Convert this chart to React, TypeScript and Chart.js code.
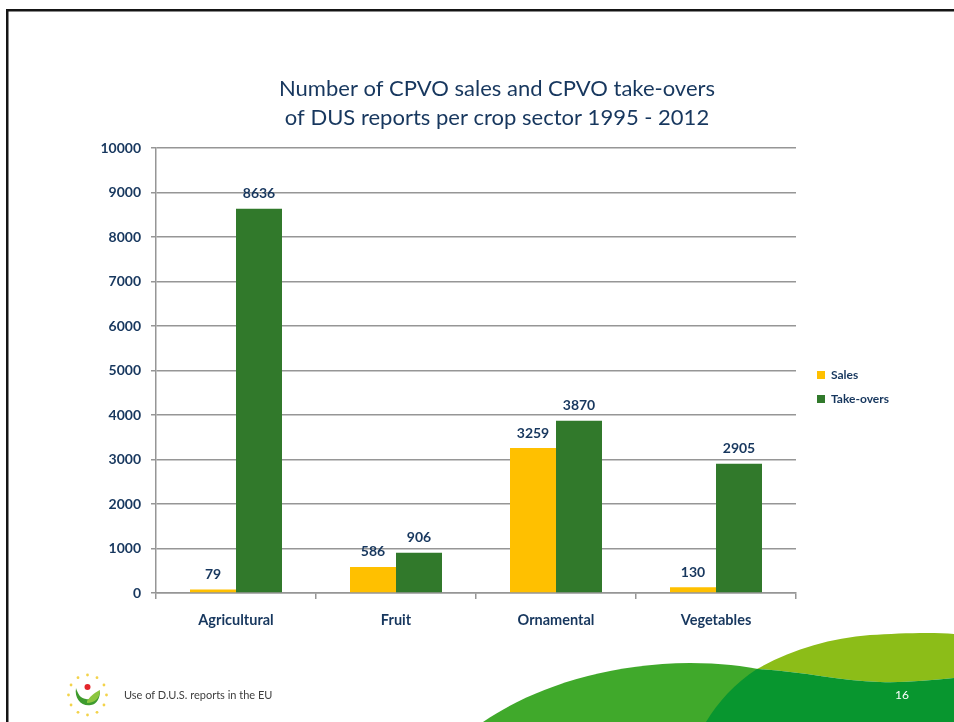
import React, { useEffect, useRef } from 'react';
import { Chart, registerables } from 'chart.js';

Chart.register(...registerables);

// ---- data ----
const categories = ['Agricultural', 'Fruit', 'Ornamental', 'Vegetables'];
const salesValues = [79, 586, 3259, 130];
const takeOverValues = [8636, 906, 3870, 2905];
const seriesNames = ['Sales', 'Take-overs'];
const titleLines = ['Number of CPVO sales and CPVO take-overs', 'of DUS reports per crop sector 1995 - 2012'];
const yMin = 0;
const yMax = 10000;
const yStep = 1000;
const footerText = 'Use of D.U.S. reports in the EU';
const pageNumber = '16';

// ---- styles ----
const NAVY = '#17375E';
const GRID = '#969696';
const SALES_COLOR = '#FFC000';
const TAKEOVER_COLOR = '#31792B';
const FONT = 'Lato, "Open Sans", sans-serif';

const valueLabels = {
  id: 'valueLabels',
  afterDatasetsDraw(chart: any) {
    const ctx = chart.ctx;
    ctx.save();
    ctx.font = `bold 14px ${FONT}`;
    ctx.fillStyle = NAVY;
    ctx.textAlign = 'center';
    ctx.textBaseline = 'middle';
    chart.data.datasets.forEach((ds: any, i: number) => {
      const meta = chart.getDatasetMeta(i);
      meta.data.forEach((el: any, j: number) => {
        ctx.fillText(String(ds.data[j]), el.x, el.y - 15);
      });
    });
    ctx.restore();
  },
};

function Logo() {
  const cx = 87.5;
  const cy = 695;
  const dots = [];
  for (let i = 0; i < 12; i++) {
    const a = (i / 12) * Math.PI * 2;
    dots.push(
      <circle key={i} cx={cx + Math.cos(a) * 19} cy={cy + Math.sin(a) * 20} r={1.4} fill="#F3D34A" />
    );
  }
  return (
    <g>
      {dots}
      <path d="M76 688 C74 699, 82 707, 91 705 C97 704, 100 698, 100 691 C96 697, 91 700, 86 699 C80 698, 78 694, 76 688 Z" fill="#3E9B2E" />
      <path d="M87 701 C91 695, 96 692, 100 690 C100 698, 95 703, 87 703 Z" fill="#8CC63F" />
      <circle cx={87.5} cy={687} r={3} fill="#E3262B" />
    </g>
  );
}

export default function App() {
  const canvasRef = useRef<HTMLCanvasElement | null>(null);

  useEffect(() => {
    if (!canvasRef.current) return;
    const chart = new Chart(canvasRef.current, {
      type: 'bar',
      data: {
        labels: categories,
        datasets: [
          {
            label: seriesNames[0],
            data: salesValues,
            backgroundColor: SALES_COLOR,
            borderWidth: 0,
            categoryPercentage: 0.575,
            barPercentage: 1,
          },
          {
            label: seriesNames[1],
            data: takeOverValues,
            backgroundColor: TAKEOVER_COLOR,
            borderWidth: 0,
            categoryPercentage: 0.575,
            barPercentage: 1,
          },
        ],
      },
      options: {
        responsive: false,
        animation: false,
        layout: { padding: { left: 97, right: 57, top: 75, bottom: 0 } },
        plugins: {
          tooltip: { enabled: false },
          title: {
            display: true,
            text: titleLines,
            color: NAVY,
            font: { family: FONT, size: 22, weight: 'normal', lineHeight: 1.3 },
            padding: { top: 0, bottom: 16 },
          },
          legend: {
            display: true,
            position: 'right',
            fullSize: false,
            maxWidth: 92,
            title: {
              display: true,
              text: ' ',
              font: { family: FONT, size: 11, lineHeight: 1 },
              padding: 11,
            },
            labels: {
              boxWidth: 8,
              boxHeight: 8,
              padding: 12,
              color: NAVY,
              font: { family: FONT, size: 12, weight: 'bold' },
            },
          },
        },
        scales: {
          x: {
            grid: {
              display: true,
              drawOnChartArea: false,
              drawTicks: true,
              tickLength: 6,
              color: GRID,
              lineWidth: 1.5,
              offset: true,
            },
            border: { display: true, color: GRID, width: 1.5 },
            ticks: {
              color: NAVY,
              padding: 13,
              font: { family: FONT, size: 14.5, weight: 'bold' },
            },
            afterFit: (s: any) => {
              s.height = 129;
            },
          },
          y: {
            min: yMin,
            max: yMax,
            grid: { color: GRID, lineWidth: 1.5, tickLength: 5 },
            border: { display: true, color: GRID, width: 1.5 },
            ticks: {
              stepSize: yStep,
              color: NAVY,
              padding: 10,
              font: { family: FONT, size: 14, weight: 'bold' },
              callback: (v: any) => String(v),
            },
            afterFit: (s: any) => {
              s.width = 59;
            },
          },
          gap: {
            type: 'linear',
            position: 'right',
            display: true,
            grid: { display: false, drawTicks: false },
            border: { display: false },
            ticks: { display: false },
            afterFit: (s: any) => {
              s.width = 9;
            },
          },
        },
      },
      plugins: [valueLabels],
    } as any);
    return () => chart.destroy();
  }, []);

  return (
    <div
      style={{
        position: 'fixed',
        left: 0,
        top: 0,
        width: 954,
        height: 722,
        background: '#ffffff',
        overflow: 'hidden',
      }}
    >
      <svg width={954} height={722} style={{ position: 'absolute', left: 0, top: 0 }}>
        <rect x={6} y={9} width={948} height={2.5} fill="#151515" />
        <rect x={6} y={9} width={2.5} height={713} fill="#151515" />
        <path d="M483 722 C530 690, 600 664, 690 663 C720 663, 745 666, 762 670 L762 722 Z" fill="#40A92B" />
        <path d="M757 669 C790 650, 830 638, 870 635 C900 633, 935 632, 954 634 L954 678 C930 680, 905 683, 880 682 C840 681, 800 671, 757 669 Z" fill="#8CBD18" />
        <path d="M706 722 C718 702, 735 683, 757 669 C800 671, 840 681, 880 682 C905 683, 930 680, 954 678 L954 722 Z" fill="#08962F" />
        <Logo />
      </svg>
      <canvas
        ref={canvasRef}
        width={954}
        height={722}
        style={{ position: 'absolute', left: 0, top: 0, width: 954, height: 722 }}
      />
      <div
        style={{
          position: 'absolute',
          left: 124,
          top: 687,
          fontFamily: FONT,
          fontSize: 11,
          lineHeight: '16px',
          color: '#404040',
          whiteSpace: 'nowrap',
        }}
      >
        {footerText}
      </div>
      <div
        style={{
          position: 'absolute',
          left: 895,
          top: 687,
          fontFamily: FONT,
          fontSize: 12,
          lineHeight: '16px',
          color: '#ffffff',
        }}
      >
        {pageNumber}
      </div>
    </div>
  );
}
